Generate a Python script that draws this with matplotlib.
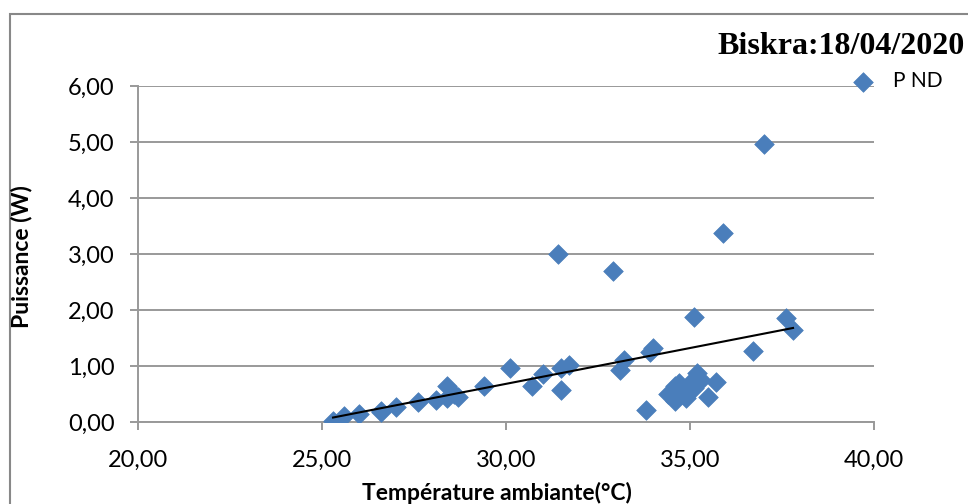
import numpy as np
import matplotlib
matplotlib.use('Agg')
import matplotlib.pyplot as plt
from matplotlib.patches import Rectangle
from matplotlib.ticker import FuncFormatter

# Température ambiante (°C)
temperature = [25.3, 25.6, 26.0, 26.6, 26.6, 27.0, 27.6, 28.1, 28.4, 28.4,
               28.6, 28.7, 29.4, 30.1, 30.7, 31.0, 31.4, 31.5, 31.5, 31.7,
               32.9, 33.1, 33.2, 33.8, 33.9, 34.0, 34.4, 34.6, 34.6, 34.7,
               34.8, 34.9, 35.0, 35.1, 35.1, 35.2, 35.3, 35.5, 35.7, 35.9,
               36.7, 37.0, 37.6, 37.8]
# Puissance P ND (W)
puissance = [0.02, 0.10, 0.15, 0.17, 0.20, 0.27, 0.36, 0.40, 0.65, 0.42,
             0.50, 0.45, 0.65, 0.97, 0.65, 0.85, 3.00, 0.58, 0.97, 1.02,
             2.70, 0.92, 1.10, 0.22, 1.25, 1.33, 0.50, 0.65, 0.38, 0.70,
             0.50, 0.42, 0.70, 0.60, 1.87, 0.88, 0.75, 0.45, 0.72, 3.37,
             1.27, 4.97, 1.85, 1.65]

x_ticks = [20, 25, 30, 35, 40]
y_ticks = [0, 1, 2, 3, 4, 5, 6]

blue = '#4a7ebb'
grey = '#999999'
font = ['Lato', 'DejaVu Sans']

fig = plt.figure(figsize=(9.68, 5.04), dpi=100)
ax = fig.add_axes([138 / 968, 1 - 422 / 504, (874 - 138) / 968, (422 - 86) / 504])

# cadre du graphique
fig.patches.append(Rectangle((10 / 968, -0.2), 1.2, 1.2 - 14 / 504,
                             transform=fig.transFigure, fill=False,
                             edgecolor='#888888', linewidth=1.5))

ax.scatter(temperature, puissance, marker='D', s=100, color=blue,
           edgecolors=blue, linewidths=0.5, zorder=3, label='P ND')

# courbe de tendance linéaire
a, b = np.polyfit(temperature, puissance, 1)
xt = np.array([min(temperature), max(temperature)])
ax.plot(xt, a * xt + b, color='black', linewidth=1.5, zorder=4)

ax.set_xlim(20, 40)
ax.set_ylim(0, 6)
ax.set_xticks(x_ticks)
ax.set_yticks(y_ticks)
fmt = FuncFormatter(lambda v, p: f'{v:.2f}'.replace('.', ','))
ax.xaxis.set_major_formatter(fmt)
ax.yaxis.set_major_formatter(fmt)

ax.yaxis.grid(True, color=grey, linewidth=1.4)
ax.set_axisbelow(True)
for s in ['top', 'right']:
    ax.spines[s].set_visible(False)
for s in ['left', 'bottom']:
    ax.spines[s].set_color(grey)
    ax.spines[s].set_linewidth(1.4)
ax.tick_params(axis='both', direction='out', length=6, width=1.4, color=grey,
               labelsize=17)
ax.tick_params(axis='y', pad=11)
ax.tick_params(axis='x', pad=14)
for lab in ax.get_xticklabels() + ax.get_yticklabels():
    lab.set_family(font)

fig.text(497 / 968, 1 - 493 / 504, 'Température ambiante(°C)', ha='center',
         va='center', fontsize=16.5, fontweight='bold', family=font)
fig.text(22 / 968, 1 - 257 / 504, 'Puissance (W)', ha='center', va='center',
         rotation=90, fontsize=16.5, fontweight='bold', family=font)

fig.text(965 / 968, 1 - 47 / 504, 'Biskra:18/04/2020', ha='right', va='center',
         fontsize=23, fontweight='bold', family='Liberation Serif')

ax.legend(loc='center left', bbox_to_anchor=(834 / 968, 1 - 81 / 504),
          bbox_transform=fig.transFigure, frameon=False,
          handletextpad=0.45, borderaxespad=0, prop={'family': 'Lato', 'size': 15})

fig.savefig('out.png', dpi=100)
